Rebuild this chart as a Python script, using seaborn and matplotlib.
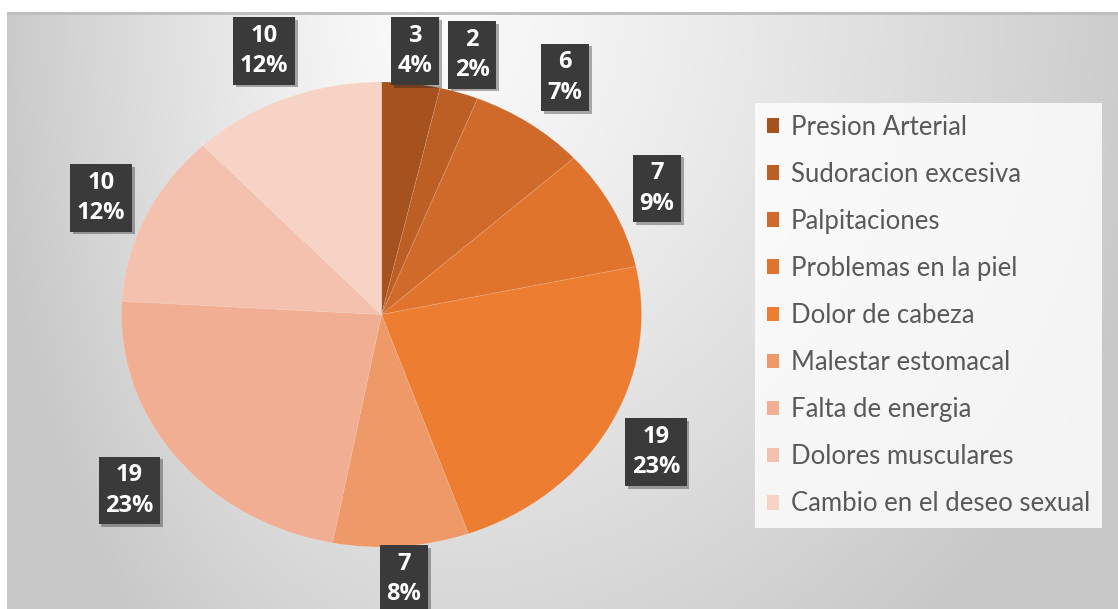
import numpy as np
import seaborn as sns
import matplotlib.pyplot as plt
import matplotlib.patheffects as pe

# datos del grafico
sintomas = ["Presion Arterial", "Sudoracion excesiva", "Palpitaciones",
            "Problemas en la piel", "Dolor de cabeza", "Malestar estomacal",
            "Falta de energia", "Dolores musculares", "Cambio en el deseo sexual"]
casos = [3, 2, 6, 7, 19, 7, 19, 10, 10]
porcentajes = ["4%", "2%", "7%", "9%", "23%", "8%", "23%", "12%", "12%"]
colores = ["#A5521F", "#BC5F25", "#D06A2A", "#E1742D", "#EC7D31",
           "#EF9868", "#F2AE92", "#F4C1AE", "#F7D3C5"]
# distancia de cada etiqueta al centro (en radios)
dist_etiquetas = [1.14, 1.17, 1.24, 1.19, 1.21, 1.14, 1.23, 1.19, 1.22]

sns.set_theme(style="white")
plt.rcParams["font.family"] = ["Lato", "DejaVu Sans"]

W, H = 1118, 609
fig = plt.figure(figsize=(W / 100, H / 100), dpi=100)
fig.patch.set_facecolor("white")

# fondo gris degradado del area del grafico
bg = fig.add_axes([7 / W, 0, 1 - 7 / W, (H - 12) / H])
yy, xx = np.mgrid[12:H, 7:W]
dx = np.where(xx < 420, (xx - 420) / 430, (xx - 420) / 760)
d = np.clip(np.hypot(dx, (yy - 10) / 820), 0, 1)
gris = 0.985 - 0.2 * d ** 1.2
bg.imshow(np.dstack([gris, gris, gris]), aspect="auto", interpolation="bilinear")
bg.axhline(0, color="#bdbdbd", lw=2)
bg.set_axis_off()

# pastel
ax = fig.add_axes([4.5 / W, (H - 616.75) / H, 754 / W, 604.5 / H])
wedges, _ = ax.pie(casos, colors=colores, startangle=90, counterclock=False,
                   wedgeprops=dict(edgecolor=(1, 1, 1, 0.12), linewidth=0.6))
ax.set_aspect("auto")
ax.set_xlim(-1.45, 1.45)
ax.set_ylim(-1.3, 1.3)
ax.set_axis_off()

for w, c, p, r in zip(wedges, casos, porcentajes, dist_etiquetas):
    ang = np.deg2rad((w.theta1 + w.theta2) / 2)
    t = ax.text(r * np.cos(ang), r * np.sin(ang), f"{c}\n{p}", ha="center", va="center",
                color="white", fontsize=17, fontweight="bold",
                family=["Open Sans", "DejaVu Sans"], linespacing=1.35,
                bbox=dict(boxstyle="square,pad=0.28", fc="#3a3a3a", ec="none"))
    t.get_bbox_patch().set_path_effects(
        [pe.SimplePatchShadow(offset=(2, -2), shadow_rgbFace="k", alpha=0.35), pe.Normal()])

leg = fig.legend(wedges, sintomas, loc="upper left",
                 bbox_to_anchor=(755 / W, 1 - 103 / H), fontsize=18.5,
                 labelspacing=0.86, handlelength=0.5, handleheight=0.5,
                 handletextpad=0.45, borderpad=0.45, borderaxespad=0,
                 frameon=True, fancybox=False)
leg.get_frame().set_facecolor((1, 1, 1, 0.25))
leg.get_frame().set_edgecolor("none")
for t in leg.get_texts():
    t.set_color("#595959")
for h in leg.legend_handles:
    h.set_edgecolor("none")

fig.savefig("out.png", dpi=100, facecolor="white")
